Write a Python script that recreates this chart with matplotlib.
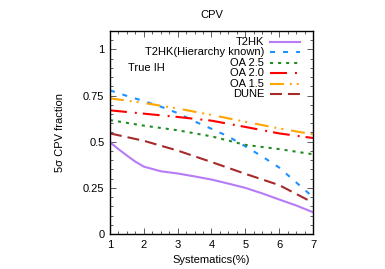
import numpy as np
import matplotlib
matplotlib.use('Agg')
import matplotlib.pyplot as plt
from matplotlib.lines import Line2D
from matplotlib.ticker import MultipleLocator

plt.rcParams['font.family'] = ['Liberation Sans', 'DejaVu Sans']
plt.rcParams['font.size'] = 8
plt.rcParams['lines.scale_dashes'] = False

# data
x_fine = [1, 1.25, 1.5, 1.75, 2, 2.5, 3, 3.5, 4, 4.5, 5, 5.5, 6, 6.5, 7]
t2hk = [0.497, 0.46, 0.425, 0.392, 0.365, 0.34, 0.328, 0.312, 0.295, 0.273, 0.25, 0.22, 0.187, 0.155, 0.118]

x_half = [1, 1.5, 2, 2.5, 3, 3.5, 4, 4.5, 5, 5.5, 6, 6.5, 7]
t2hk_hk = [0.778, 0.748, 0.72, 0.69, 0.655, 0.61, 0.57, 0.528, 0.475, 0.42, 0.36, 0.28, 0.2]

x_int = [1, 2, 3, 4, 5, 6, 7]
oa25 = [0.617, 0.587, 0.562, 0.529, 0.483, 0.46, 0.432]
oa20 = [0.67, 0.652, 0.634, 0.614, 0.58, 0.545, 0.52]
oa15 = [0.735, 0.71, 0.68, 0.645, 0.608, 0.572, 0.54]
dune = [0.545, 0.505, 0.452, 0.39, 0.326, 0.265, 0.17]

labels = ['T2HK', 'T2HK(Hierarchy known)', 'OA 2.5', 'OA 2.0', 'OA 1.5', 'DUNE']
colors = ['#b57cf5', '#1e90ff', '#228b22', '#ff0000', '#ffa500', '#a52a2a']
dashes = [None, (3.6, 5.8), (2.2, 3.6), (12.2, 5.8, 1.4, 4.3),
          (10, 4.3, 1.4, 3.6, 1.4, 5.8), (8.6, 4.3)]

fig = plt.figure(figsize=(3.85, 2.69), dpi=100)
ax = fig.add_axes([0.2857, 0.130, 0.5273, 0.755])

series = [(x_fine, t2hk), (x_half, t2hk_hk), (x_int, oa25),
          (x_int, oa20), (x_int, oa15), (x_int, dune)]
for (xs, ys), c, d in zip(series, colors, dashes):
    ln, = ax.plot(xs, ys, color=c, lw=1.5)
    if d is not None:
        ln.set_dashes(d)

ax.set_xlim(1, 7)
ax.set_ylim(0, 1.1)
ax.xaxis.set_major_locator(MultipleLocator(1))
ax.xaxis.set_minor_locator(MultipleLocator(0.25))
ax.yaxis.set_major_locator(MultipleLocator(0.25))
ax.yaxis.set_minor_locator(MultipleLocator(0.05))
ax.set_yticks([0, 0.25, 0.5, 0.75, 1])
ax.set_yticklabels(['0', '0.25', '0.5', '0.75', '1'])
ax.tick_params(which='both', direction='in', top=True, right=True, color='#444444')
ax.tick_params(which='major', length=4, width=0.6, pad=4)
ax.tick_params(which='minor', length=2, width=0.6)
for s in ax.spines.values():
    s.set_linewidth(1.0)

ax.set_xlabel('Systematics(%)', labelpad=4)
ax.set_ylabel('5σ CPV fraction', labelpad=13)
ax.set_title('CPV', pad=9, fontsize=8)

# legend, gnuplot style: right-aligned text, sample on the right
ty = 0.946
for lab, c, d in zip(labels, colors, dashes):
    ax.text(0.759, ty, lab, transform=ax.transAxes, ha='right', va='center')
    ln = Line2D([0.788, 0.936], [ty, ty], transform=ax.transAxes, color=c, lw=1.5)
    if d is not None:
        ln.set_dashes(d)
    ax.add_line(ln)
    ty -= 0.0517

ax.text(0.089, 0.818, 'True IH', transform=ax.transAxes, ha='left', va='center')

fig.savefig('out.png', dpi=100)
